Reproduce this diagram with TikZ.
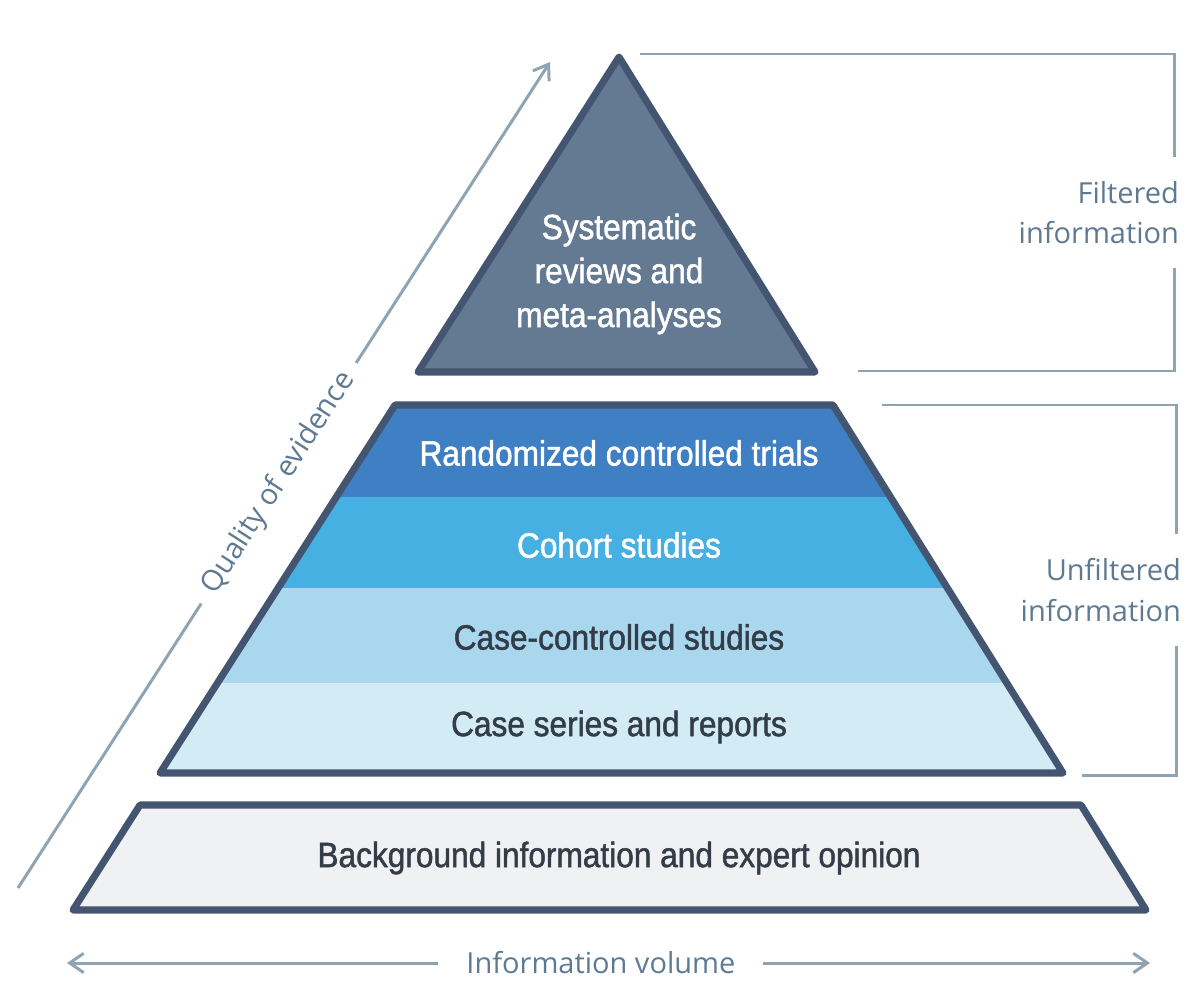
\documentclass[tikz,border=0pt]{standalone}
\usepackage{fontspec}
\setmainfont{Open Sans}
\newfontfamily\condfont[FakeStretch=0.9,FakeBold=1.4]{Liberation Sans}
\usetikzlibrary{arrows.meta}

\definecolor{edgeblue}{HTML}{435570}
\definecolor{topfill}{HTML}{637A92}
\definecolor{rctfill}{HTML}{3F80C4}
\definecolor{cohortfill}{HTML}{47B0E3}
\definecolor{casefill}{HTML}{A9D7EE}
\definecolor{seriesfill}{HTML}{D3EBF5}
\definecolor{basefill}{HTML}{F0F1F3}
\definecolor{guide}{HTML}{8EA3B3}
\definecolor{labeltext}{HTML}{5E7A93}
\definecolor{darktext}{HTML}{343C47}

\tikzset{
  tier/.style={draw=edgeblue, line width=4pt, line join=round},
  tiertext/.style={font=\condfont\fontsize{20}{25}\selectfont, align=center},
  guideline/.style={draw=guide, line width=1.7pt},
  sidelabel/.style={font=\fontsize{16.5}{23}\selectfont, text=labeltext, align=right},
  >={Straight Barb[length=8pt,width=11pt]}
}

\begin{document}
\begin{tikzpicture}[x=0.02cm, y=-0.02cm]
  \useasboundingbox (0,0) rectangle (1200,997);

  % filtered tier
  \filldraw[tier, fill=topfill] (619,57) -- (815,372) -- (418,372) -- cycle;
  % unfiltered tiers
  \begin{scope}
    \clip (395,405) -- (833,405) -- (1063,773) -- (160,773) -- cycle;
    \fill[rctfill]    (0,405) rectangle (1200,497);
    \fill[cohortfill] (0,497) rectangle (1200,588);
    \fill[casefill]   (0,588) rectangle (1200,683);
    \fill[seriesfill] (0,683) rectangle (1200,773);
  \end{scope}
  \draw[tier] (395,405) -- (833,405) -- (1063,773) -- (160,773) -- cycle;
  % background tier
  \filldraw[tier, fill=basefill] (140,805) -- (1081,805) -- (1146,910) -- (73,910) -- cycle;

  \node[tiertext, text=white] (sysrev) at (619,274) {Systematic\\reviews and\\meta-analyses};
  \node[tiertext, text=white] (rct) at (619,453) {Randomized controlled trials};
  \node[tiertext, text=white] (cohort) at (619,545) {Cohort studies};
  \node[tiertext, text=darktext] (casectrl) at (619,637) {Case-controlled studies};
  \node[tiertext, text=darktext] (series) at (619,727) {Case series and reports};
  \node[tiertext, text=darktext] (backgr) at (619,858) {Background information and expert opinion};

  % quality and volume arrows
  \coordinate (qlo) at (18,888);
  \coordinate (qhi) at (550,62);
  \draw[guideline, ->] (qlo) -- node[sidelabel, sloped, fill=white, inner xsep=8pt, pos=0.49] (quality) {Quality of evidence} (qhi);
  \coordinate (vleft) at (67,963);
  \coordinate (vright) at (1150,963);
  \draw[guideline, <->] (vleft) -- node[sidelabel, fill=white, inner xsep=16pt, pos=0.493] (volume) {Information volume} (vright);

  % brackets
  \coordinate (ftl) at (640,54);
  \coordinate (ftr) at (1174,54);
  \coordinate (fbr) at (1174,371);
  \coordinate (fbl) at (858,371);
  \draw[guideline] (ftl) -- (ftr) -- node[sidelabel, fill=white, anchor=east, xshift=7pt, inner ysep=14pt] (filtered) {Filtered\\information} (fbr) -- (fbl);
  \coordinate (utl) at (882,405);
  \coordinate (utr) at (1176,405);
  \coordinate (ubr) at (1176,775);
  \coordinate (ubl) at (1082,775);
  \draw[guideline] (utl) -- (utr) -- node[sidelabel, fill=white, anchor=east, xshift=7pt, inner ysep=14pt] (unfiltered) {Unfiltered\\information} (ubr) -- (ubl);
\end{tikzpicture}
\end{document}
